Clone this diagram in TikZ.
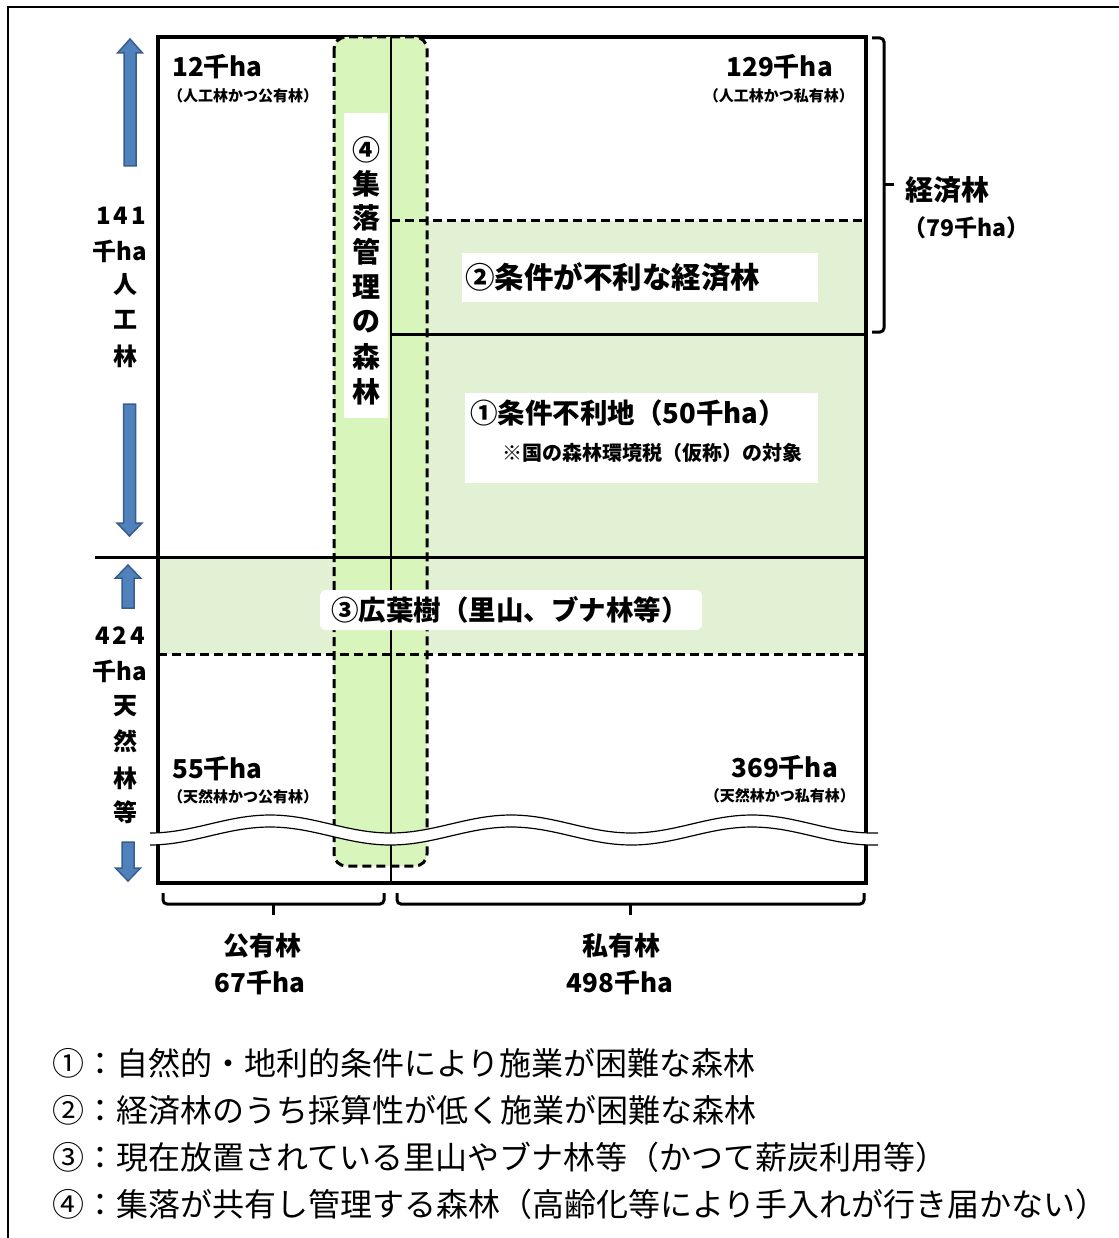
\documentclass[tikz,border=0pt]{standalone}
\usepackage{fontspec}
\setmainfont{Noto Sans CJK JP}
\newcommand\setfs[1]{\fontsize{#1}{#1}\selectfont}
\definecolor{regfill}{RGB}{226,241,212}
\definecolor{colfill}{RGB}{216,245,188}
\definecolor{arrowblue}{RGB}{79,129,189}
\definecolor{arrowedge}{RGB}{56,93,138}
\begin{document}
\begin{tikzpicture}[x=1pt,y=-1pt,
  txt/.style={inner sep=0pt, font=\bfseries\setfs{#1}},
  txt/.default=24,
  spaced/.style={font=\bfseries\setfs{24}\addfontfeatures{LetterSpace=12}},
  leg/.style={inner sep=0pt, anchor=west, font=\setfs{32}},
  dashline/.style={line width=3pt, dash pattern=on 9pt off 5pt},
  solidline/.style={line width=3pt},
  labelbox/.style={fill=white, draw=none},
  blockarrow/.style={fill=arrowblue, draw=arrowedge, line width=1.5pt, line join=miter},
  bracketline/.style={line width=3pt, rounded corners=4pt},
  waveline/.style={line width=1.2pt}]
\useasboundingbox (0,0) rectangle (1118,1238);
% outer frame
\draw[line width=2pt] (8,1245) -- (8,7) -- (1125,7);
% green regions
\fill[regfill] (391,221) rectangle (866,557);
\fill[regfill] (158,557) rectangle (866,654);
% main box outline
\draw[line width=3.5pt] (158,37) rectangle (866,883);
% column 4
\filldraw[fill=colfill, dashline, rounded corners=12pt] (334,37) rectangle (427,866);
% inner lines
\draw[line width=2pt] (391,37) -- (391,883);
\draw[solidline] (95,557) -- (866,557);
\draw[solidline] (391,334) -- (866,334);
\draw[dashline] (391,221) -- (866,221);
\draw[dashline] (158,654) -- (866,654);
% label boxes
\fill[labelbox] (344,113) rectangle (388,418);
\fill[labelbox] (462,253) rectangle (818,302);
\fill[labelbox] (465,393) rectangle (818,483);
\fill[labelbox, rounded corners=6pt] (320,590) rectangle (702,630);
% wave break
\fill[white] plot[domain=150:878,samples=150] (\x,{824-9*cos((\x-270)*1.49378)})
  -- plot[domain=878:150,samples=150] (\x,{836-9*cos((\x-270)*1.49378)}) -- cycle;
\draw[waveline] plot[domain=150:878,samples=150] (\x,{824-9*cos((\x-270)*1.49378)});
\draw[waveline] plot[domain=150:878,samples=150] (\x,{836-9*cos((\x-270)*1.49378)});
% blue block arrows
\filldraw[blockarrow] (124,166) -- (124,53) -- (117.5,53) -- (130,39) -- (142.5,53) -- (136,53) -- (136,166) -- cycle;
\filldraw[blockarrow] (123.5,404) -- (135.5,404) -- (135.5,523) -- (142,523) -- (129.5,536) -- (117,523) -- (123.5,523) -- cycle;
\filldraw[blockarrow] (122,608) -- (122,578) -- (115.5,578) -- (128,565) -- (140.5,578) -- (134,578) -- (134,608) -- cycle;
\filldraw[blockarrow] (122,842) -- (134,842) -- (134,868) -- (140.5,868) -- (128,881) -- (115.5,868) -- (122,868) -- cycle;
% brackets
\draw[bracketline] (872,38) -- (884,38) -- (884,332) -- (872,332);
\draw[line width=3pt] (884,185) -- (894,185);
\draw[bracketline] (163,893) -- (163,904) -- (384,904) -- (384,893);
\draw[line width=3pt] (273,904) -- (273,915);
\draw[bracketline] (397,893) -- (397,904) -- (864,904) -- (864,893);
\draw[line width=3pt] (630,904) -- (630,915);
% quadrant labels
\node[txt=26, anchor=west] (q1) at (172,67) {12千ha};
\node[txt=15, anchor=west] (q1s) at (168,96) {（人工林かつ公有林）};
\node[txt=26, anchor=east] (q2) at (833,67) {129千ha};
\node[txt=15, anchor=east] (q2s) at (854,96) {（人工林かつ私有林）};
\node[txt=26, anchor=west] (q3) at (172,769) {55千ha};
\node[txt=15, anchor=west] (q3s) at (168,797) {（天然林かつ公有林）};
\node[txt=26, anchor=east] (q4) at (838,768) {369千ha};
\node[txt=15, anchor=east] (q4s) at (855,796) {（天然林かつ私有林）};
% left vertical labels
\node[txt, spaced] (a1) at (121,216) {141};
\node[txt] (a2) at (120,251) {千ha};
\node[txt] (a3) at (125,285) {人};
\node[txt] (a4) at (125,320) {工};
\node[txt] (a5) at (125,356) {林};
\node[txt, spaced] (b1) at (120,636) {424};
\node[txt] (b2) at (120,671) {千ha};
\node[txt] (b3) at (125,706) {天};
\node[txt] (b4) at (125,741) {然};
\node[txt] (b5) at (125,778) {林};
\node[txt] (b6) at (125,812) {等};
% column label
\node[txt=28] (c1) at (366,150) {④};
\node[txt=28] (c2) at (366,184) {集};
\node[txt=28] (c3) at (366,218) {落};
\node[txt=28] (c4) at (366,252) {管};
\node[txt=28] (c5) at (366,287) {理};
\node[txt=28] (c6) at (366,322) {の};
\node[txt=28] (c7) at (366,357) {森};
\node[txt=28] (c8) at (366,392) {林};
% region labels
\node[txt=29.5, anchor=west] (r2) at (465,277) {②条件が不利な経済林};
\node[txt=27.5, anchor=west] (r1) at (470,413) {①条件不利地（50千ha）};
\node[txt=20, anchor=west] (r1s) at (502,453) {※国の森林環境税（仮称）の対象};
\node[txt=27.5] (r3) at (510,610) {③広葉樹（里山、ブナ林等）};
% right labels
\node[txt=28, anchor=west] (e1) at (905,190) {経済林};
\node[txt=23, anchor=west] (e2) at (903,228) {（79千ha）};
% bottom labels
\node[txt=26] (p1) at (262,946) {公有林};
\node[txt=26] (p2) at (260,983) {67千ha};
\node[txt=26] (p3) at (621,946) {私有林};
\node[txt=26] (p4) at (620,983) {498千ha};
% legend
\node[leg] (l1) at (52,1063) {①：自然的・地利的条件により施業が困難な森林};
\node[leg] (l2) at (52,1110) {②：経済林のうち採算性が低く施業が困難な森林};
\node[leg] (l3) at (52,1157) {③：現在放置されている里山やブナ林等（かつて薪炭利用等）};
\node[leg] (l4) at (52,1204) {④：集落が共有し管理する森林（高齢化等により手入れが行き届かない）};
\end{tikzpicture}
\end{document}
